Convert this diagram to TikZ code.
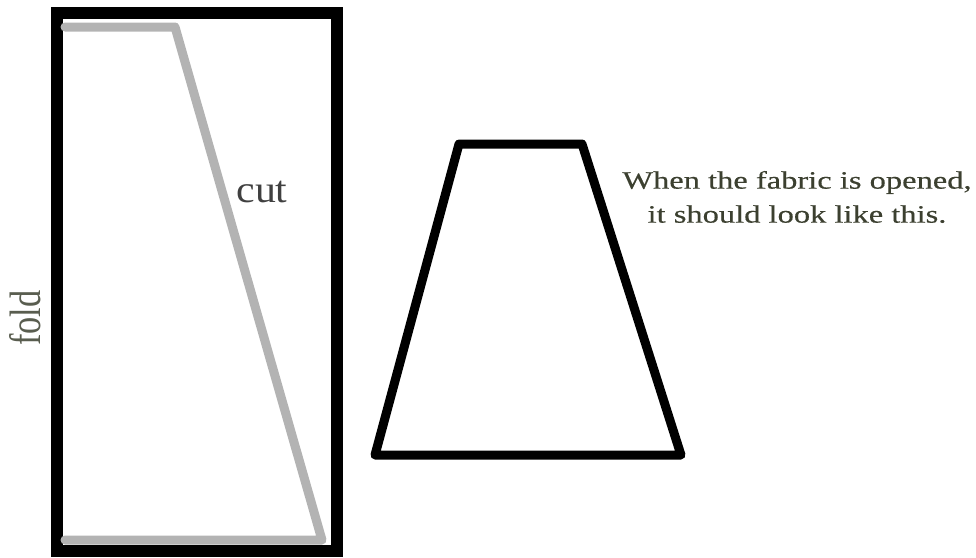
\documentclass[tikz,border=0pt]{standalone}
\usepackage{fontspec}
\setmainfont{Liberation Serif}
\newfontfamily\notefont[FakeStretch=1.3, FakeBold=0.4]{Liberation Serif}
\newfontfamily\cutfont[FakeStretch=1.1]{Liberation Serif}
\newfontfamily\foldfont[FakeStretch=0.78]{Liberation Serif}
\usetikzlibrary{positioning}

\definecolor{foldgray}{HTML}{B3B3B3}
\definecolor{notegreen}{HTML}{3C4030}

\begin{document}
\begin{tikzpicture}[
    x=1pt, y=-1pt,
    frame/.style={draw=black, line width=12pt, line join=miter},
    cutline/.style={draw=foldgray, line width=9pt, line cap=round, line join=round},
    piece/.style={draw=black, line width=9pt, line join=round, line cap=round},
    note/.style={font=\notefont\fontsize{25}{34}\selectfont, text=notegreen, align=center, inner sep=0pt},
    sidelabel/.style={inner sep=0pt, anchor=base}
  ]
  \useasboundingbox (0,0) rectangle (976,557);

  % folded fabric with the cut
  \draw[frame] (57,13) rectangle (337,551);
  \draw[cutline] (65,27) -- (175,27) -- (322,540) -- (65,540);

  \node[sidelabel, font=\cutfont\fontsize{38}{42}\selectfont, text=black!75] (cut) at (262,202) {cut};
  \node[sidelabel, font=\foldfont\fontsize{44}{48}\selectfont, text=notegreen!85, rotate=90] (fold) at (40,318) {fold};

  % opened piece
  \draw[piece] (459,144) -- (582,144) -- (681,455) -- (375,455) -- cycle;

  \node[note] (opened) at (797,197)
    {When the fabric is opened,\\ it should look like this.};
\end{tikzpicture}
\end{document}
